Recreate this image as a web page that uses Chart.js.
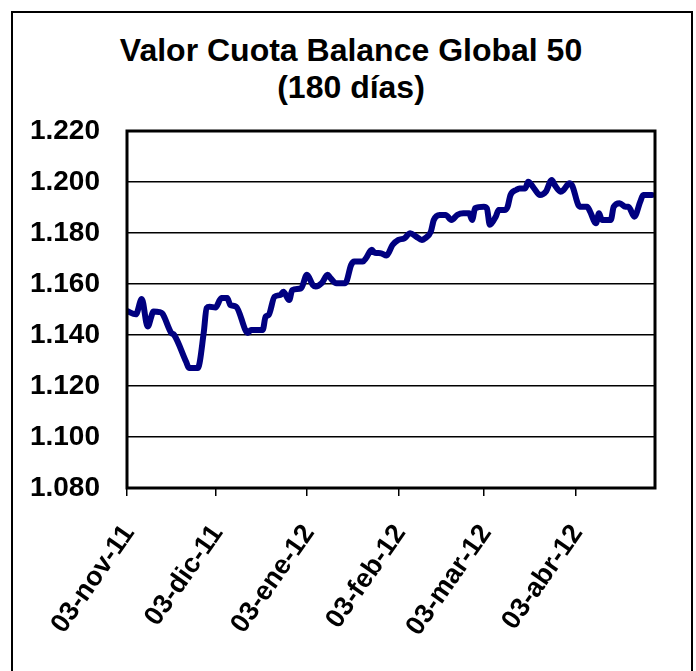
<!DOCTYPE html>
<html>
<head>
<meta charset="utf-8">
<title>Valor Cuota Balance Global 50</title>
<script src="https://cdn.jsdelivr.net/npm/chart.js@4.4.1/dist/chart.umd.min.js"></script>
<style>
  html, body { margin: 0; padding: 0; background: #fff; overflow: hidden; }
  #wrap { position: relative; width: 696px; height: 671px; }
  #frame { position: absolute; left: 11px; top: 11px; width: 678px; height: 700px; border: 2px solid #000; }
  #title { position: absolute; left: 6px; width: 690px; top: 32px; text-align: center;
           font: bold 32px 'Liberation Sans', Arial, sans-serif; line-height: 37px; color: #000; }
  canvas { position: absolute; left: 0; top: 0; }
</style>
</head>
<body>
<div id="wrap">
  <div id="frame"></div>
  <div id="title">Valor Cuota Balance Global 50<br>(180 días)</div>
  <canvas id="cuotaChart" width="696" height="671"></canvas>
</div>
<script>
// days counted from 03-nov-11
const days = [
  0, 3, 5, 7, 9, 11, 12, 15, 16, 20, 21, 24, 26, 27, 28, 30, 32, 34, 35, 37,
  41, 42, 46, 47, 48, 50, 52, 53, 55, 56, 59, 61, 63, 64, 66, 68, 69, 71, 74, 76,
  77, 80, 81, 83, 84, 86, 88, 90, 92, 94, 96, 98, 100, 101, 103, 104, 106, 108, 110, 112,
  114, 116, 117, 118, 121, 122, 123, 125, 126, 128, 129, 130, 132, 133, 135, 136, 138, 140, 142, 144,
  145, 147, 148, 150, 151, 153, 154, 156, 157, 159, 160, 161, 164, 165, 167, 169, 170, 172, 174, 175, 178
];

// valor cuota
const values = [
  1.1494, 1.1481, 1.1541, 1.1433, 1.1492, 1.1490, 1.1484, 1.1408, 1.1400, 1.1296,
  1.1271, 1.1271, 1.1408, 1.1506, 1.1511, 1.1508, 1.1545, 1.1545, 1.1518, 1.1511,
  1.1408, 1.1420, 1.1420, 1.1472, 1.1478, 1.1550, 1.1557, 1.1570, 1.1537, 1.1576,
  1.1583, 1.1636, 1.1596, 1.1590, 1.1603, 1.1636, 1.1623, 1.1603, 1.1603, 1.1675,
  1.1688, 1.1688, 1.1701, 1.1734, 1.1722, 1.1721, 1.1712, 1.1753, 1.1773, 1.1779,
  1.1799, 1.1786, 1.1773, 1.1779, 1.1805, 1.1851, 1.1871, 1.1871, 1.1851, 1.1871,
  1.1877, 1.1877, 1.1851, 1.1897, 1.1903, 1.1897, 1.1832, 1.1864, 1.1890, 1.1890,
  1.1902, 1.1949, 1.1969, 1.1975, 1.1975, 1.2001, 1.1975, 1.1949, 1.1962, 1.2008,
  1.1988, 1.1962, 1.1969, 1.1995, 1.1984, 1.1910, 1.1903, 1.1903, 1.1884, 1.1838,
  1.1877, 1.1851, 1.1851, 1.1903, 1.1917, 1.1903, 1.1903, 1.1864, 1.1923, 1.1949,
  1.1949
];

const xTickDays = [0, 30, 61, 92, 121, 152];
const xTickLabels = ['03-nov-11', '03-dic-11', '03-ene-12', '03-feb-12', '03-mar-12', '03-abr-12'];
const yMin = 1.08;
const yMax = 1.22;
const yStep = 0.02;

const fontFamily = "'Liberation Sans', Arial, sans-serif";

// thick black box round the plot area
const plotBox = {
  id: 'plotBox',
  afterDatasetsDraw(chart) {
    const { ctx, chartArea: a } = chart;
    ctx.save();
    ctx.strokeStyle = '#000';
    ctx.lineWidth = 3;
    ctx.strokeRect(a.left, a.top, a.right - a.left, a.bottom - a.top);
    ctx.restore();
  }
};

new Chart(document.getElementById('cuotaChart'), {
  type: 'line',
  data: {
    datasets: [{
      data: days.map((d, i) => ({ x: d, y: values[i] })),
      borderColor: '#000080',
      borderWidth: 6,
      pointRadius: 0,
      cubicInterpolationMode: 'monotone',
      borderJoinStyle: 'round',
      borderCapStyle: 'round',
      fill: false
    }]
  },
  options: {
    responsive: false,
    animation: false,
    devicePixelRatio: 1,
    layout: { padding: { top: 131, right: 41, left: 0, bottom: 0 } },
    plugins: {
      legend: { display: false },
      tooltip: { enabled: false },
      title: { display: false }
    },
    scales: {
      x: {
        type: 'linear',
        min: 0,
        max: 179,
        afterBuildTicks: (s) => { s.ticks = xTickDays.map(v => ({ value: v })); },
        afterFit: (s) => { s.height = 183; },
        grid: { drawOnChartArea: false, drawTicks: true, tickLength: 8, color: '#000', lineWidth: 1.5 },
        border: { display: false },
        ticks: {
          autoSkip: false,
          minRotation: 55,
          maxRotation: 55,
          padding: 23,
          labelOffset: 2,
          color: '#000',
          font: { family: fontFamily, size: 27, weight: 'bold' },
          callback: (v) => xTickLabels[xTickDays.indexOf(v)]
        }
      },
      y: {
        min: yMin,
        max: yMax,
        afterFit: (s) => { s.width = 127; },
        grid: { color: '#000', lineWidth: 1.5, drawTicks: false },
        border: { display: false },
        ticks: {
          stepSize: yStep,
          padding: 27,
          color: '#000',
          font: { family: fontFamily, size: 28, weight: 'bold' },
          callback: (v) => v.toFixed(3)
        }
      }
    }
  },
  plugins: [plotBox]
});
</script>
</body>
</html>
